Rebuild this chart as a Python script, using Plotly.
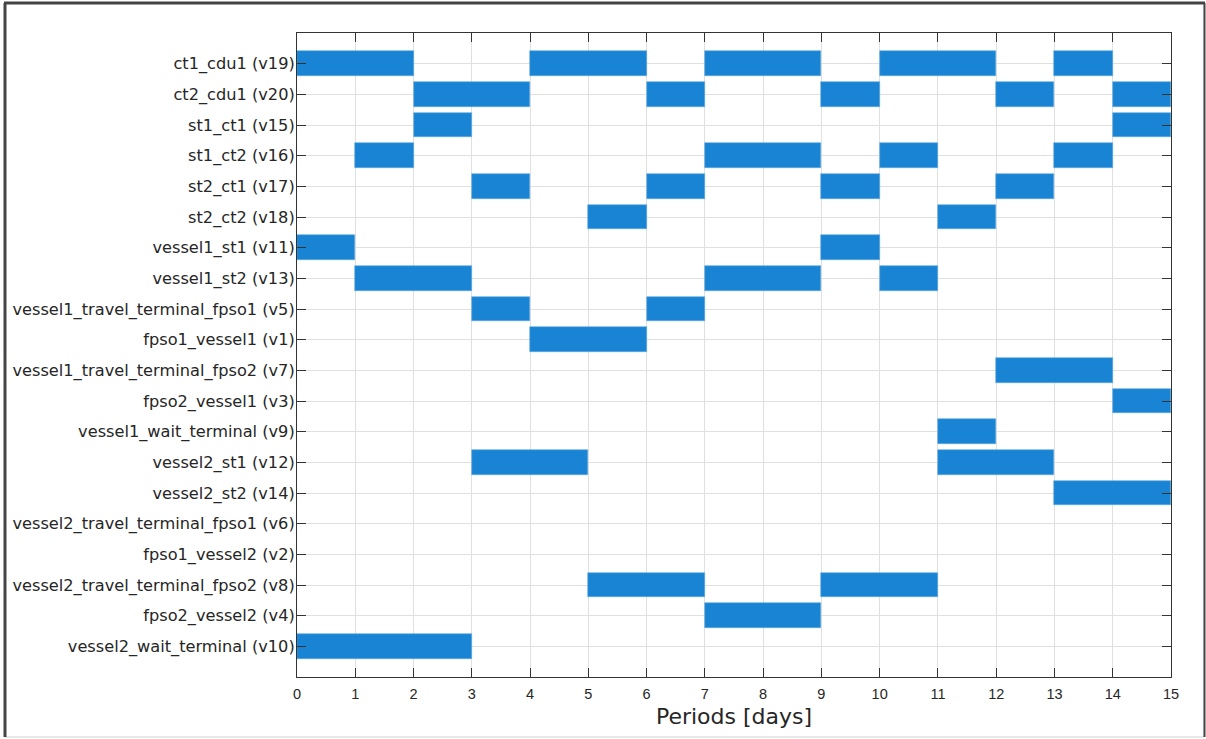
import plotly.graph_objects as go

rows = [
    "ct1_cdu1 (v19)", "ct2_cdu1 (v20)", "st1_ct1 (v15)", "st1_ct2 (v16)",
    "st2_ct1 (v17)", "st2_ct2 (v18)", "vessel1_st1 (v11)", "vessel1_st2 (v13)",
    "vessel1_travel_terminal_fpso1 (v5)", "fpso1_vessel1 (v1)",
    "vessel1_travel_terminal_fpso2 (v7)", "fpso2_vessel1 (v3)",
    "vessel1_wait_terminal (v9)", "vessel2_st1 (v12)", "vessel2_st2 (v14)",
    "vessel2_travel_terminal_fpso1 (v6)", "fpso1_vessel2 (v2)",
    "vessel2_travel_terminal_fpso2 (v8)", "fpso2_vessel2 (v4)",
    "vessel2_wait_terminal (v10)",
]

# (start, end) intervals for each row, in days
intervals = [
    [(0, 2), (4, 6), (7, 9), (10, 12), (13, 14)],
    [(2, 4), (6, 7), (9, 10), (12, 13), (14, 15)],
    [(2, 3), (14, 15)],
    [(1, 2), (7, 9), (10, 11), (13, 14)],
    [(3, 4), (6, 7), (9, 10), (12, 13)],
    [(5, 6), (11, 12)],
    [(0, 1), (9, 10)],
    [(1, 3), (7, 9), (10, 11)],
    [(3, 4), (6, 7)],
    [(4, 6)],
    [(12, 14)],
    [(14, 15)],
    [(11, 12)],
    [(3, 5), (11, 13)],
    [(13, 15)],
    [],
    [],
    [(5, 7), (9, 11)],
    [(7, 9)],
    [(0, 3)],
]

x_ticks = list(range(0, 16))

n = len(rows)
ypos = [n - i for i in range(n)]  # top row at 20, bottom at 1

bx, bbase, by = [], [], []
for i, ivs in enumerate(intervals):
    for s, e in ivs:
        bx.append(e - s)
        bbase.append(s)
        by.append(ypos[i])

fig = go.Figure()
fig.add_trace(go.Bar(
    x=bx, base=bbase, y=by, orientation="h", width=0.8,
    marker=dict(color="#1984D4", line=dict(color="#5FA8E0", width=0.6)),
    showlegend=False, hoverinfo="skip",
))

L, R, T, B = 297, 35, 33, 62
W, H = 1206, 739
pw, ph = W - L - R, H - T - B

def px(x):
    return (x - L) / pw

def py(y):
    return (H - B - y) / ph

fig.update_layout(
    width=W, height=H,
    margin=dict(l=L, r=R, t=T, b=B, pad=0, autoexpand=False),
    paper_bgcolor="white", plot_bgcolor="white",
    bargap=0,
    xaxis=dict(
        range=[0, 15], tickvals=x_ticks, ticktext=[str(v) for v in x_ticks],
        ticks="inside", ticklen=9, tickcolor="#333333", tickwidth=1,
        showgrid=True, gridcolor="#E0E0E0", gridwidth=1,
        showline=True, linecolor="#333333", linewidth=1, mirror="ticks",
        zeroline=False, ticklabelstandoff=4, automargin=False,
        tickfont=dict(family="Liberation Sans, Arial", size=14.5, color="#262626"),
        title=dict(text="Periods [days]", font=dict(family="DejaVu Sans", size=22, color="#262626"), standoff=7),
    ),
    yaxis=dict(
        range=[0, n + 1], tickvals=ypos, ticktext=rows,
        ticks="inside", ticklen=9, tickcolor="#333333", tickwidth=1,
        showgrid=True, gridcolor="#E0E0E0", gridwidth=1,
        showline=True, linecolor="#333333", linewidth=1, mirror="ticks",
        zeroline=False, automargin=False, ticklabelstandoff=-2,
        tickfont=dict(family="DejaVu Sans, Verdana", size=16.2, color="#262626"),
    ),
    shapes=[
        dict(type="rect", xref="paper", yref="paper",
             x0=px(5), x1=px(1204), y0=py(737), y1=py(3),
             line=dict(color="#D0D0D0", width=1), fillcolor="rgba(0,0,0,0)", layer="below"),
        dict(type="line", xref="paper", yref="paper",
             x0=px(5), x1=px(5), y0=py(737), y1=py(3),
             line=dict(color="#444444", width=3)),
        dict(type="line", xref="paper", yref="paper",
             x0=px(4), x1=px(1205), y0=py(3), y1=py(3),
             line=dict(color="#444444", width=3)),
        dict(type="line", xref="paper", yref="paper",
             x0=px(1204.5), x1=px(1204.5), y0=py(737), y1=py(3),
             line=dict(color="#444444", width=2)),
    ],
)

fig.write_html("out.html", config={"displayModeBar": False},
               post_script="document.body.style.margin='0';document.body.style.overflow='hidden';")
